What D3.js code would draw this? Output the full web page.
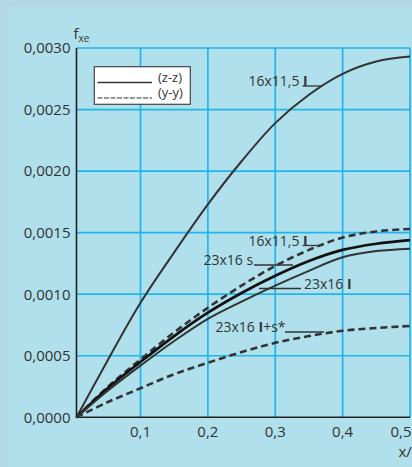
<!DOCTYPE html>
<html><head><meta charset="utf-8">
<script src="https://cdn.jsdelivr.net/npm/d3@7"></script>
<style>
html,body{margin:0;padding:0;background:#b0e0eb;}
svg{display:block;}
text{font-family:"Open Sans",sans-serif;fill:#333;}
</style></head>
<body>
<svg id="c" width="412" height="467"></svg>
<script>
// ---- data ----
const xValues = [0.005, 0.05, 0.1, 0.15, 0.2, 0.25, 0.3, 0.35, 0.4, 0.45, 0.5];
const s16x115_zz = [0, 0.00045, 0.00093, 0.00134, 0.00173, 0.00208, 0.00239, 0.00262, 0.00279, 0.00289, 0.00293];
const s16x115_yy = [0, 0.00024, 0.00047, 0.00069, 0.00089, 0.00107, 0.00123, 0.00136, 0.00146, 0.00151, 0.00153];
const s23x16s_zz = [0, 0.00023, 0.00045, 0.00066, 0.00085, 0.00101, 0.00115, 0.00127, 0.00136, 0.00141, 0.00144];
const s23x16_zz  = [0, 0.00021, 0.00042, 0.00062, 0.00080, 0.00094, 0.00107, 0.00119, 0.00130, 0.00135, 0.00137];
const s23x16is_yy = [0, 0.00012, 0.000236, 0.00035, 0.000443, 0.00053, 0.000605, 0.00066, 0.000703, 0.000725, 0.000742];
const yTicks = [0, 0.0005, 0.001, 0.0015, 0.002, 0.0025, 0.003];
const yTickLabels = ["0,0000","0,0005","0,0010","0,0015","0,0020","0,0025","0,0030"];
const xTicks = [0.1, 0.2, 0.3, 0.4, 0.5];
const xTickLabels = ["0,1","0,2","0,3","0,4","0,5"];
const legendLabels = ["(z-z)", "(y-y)"];

const svg = d3.select("#c");
// background
svg.append("rect").attr("x",0).attr("y",0).attr("width",412).attr("height",467).attr("fill","#b4d7e6");
svg.append("rect").attr("x",9).attr("y",7).attr("width",403).attr("height",460).attr("fill","#b0e0eb");

const x = d3.scaleLinear().domain([0.005, 0.5]).range([76.5, 410]);
const y = d3.scaleLinear().domain([0, 0.003]).range([417.3, 48]);

const gridColor = "#22b4ec";
// grid
svg.append("g").selectAll("line").data(yTicks.slice(1)).join("line")
  .attr("x1", x(0.005)).attr("x2", x(0.5)).attr("y1", d=>y(d)).attr("y2", d=>y(d))
  .attr("stroke", gridColor).attr("stroke-width", 1.7);
svg.append("g").selectAll("line").data(xTicks).join("line")
  .attr("x1", d=>x(d)).attr("x2", d=>x(d)).attr("y1", y(0)).attr("y2", y(0.003))
  .attr("stroke", gridColor).attr("stroke-width", 1.7);

// axes lines
svg.append("line").attr("x1", x(0.005)).attr("x2", x(0.005)).attr("y1", y(0.003)).attr("y2", y(0)+0.8)
  .attr("stroke","#222").attr("stroke-width",1.6);
svg.append("line").attr("x1", x(0.005)).attr("x2", x(0.5)).attr("y1", y(0)).attr("y2", y(0))
  .attr("stroke","#222").attr("stroke-width",1.6);

// tick labels
svg.append("g").selectAll("text").data(yTicks).join("text")
  .attr("x", 70.5).attr("y", d=>y(d)+5.3).attr("text-anchor","end")
  .attr("font-size", 15).text((d,i)=>yTickLabels[i]);
svg.append("g").selectAll("text").data(xTicks).join("text")
  .attr("x", (d,i)=> i===xTicks.length-1 ? 411.5 : x(d))
  .attr("y", 437).attr("text-anchor", (d,i)=> i===xTicks.length-1 ? "end" : "middle")
  .attr("font-size", 15).text((d,i)=>xTickLabels[i]);

// axis titles
const ft = svg.append("text").attr("x", 73.5).attr("y", 39).attr("font-size", 15);
ft.append("tspan").text("f");
ft.append("tspan").attr("font-size", 10).attr("dy", 3).text("xe");
svg.append("text").attr("x", 398.5).attr("y", 456.5).attr("font-size", 15).text("x/l");

// legend
svg.append("rect").attr("x", 94.3).attr("y", 66.7).attr("width", 96).attr("height", 37.6)
  .attr("fill", "#ffffff").attr("stroke", "#444").attr("stroke-width", 1.2);
svg.append("line").attr("x1", 97.5).attr("x2", 152).attr("y1", 82.5).attr("y2", 82.5)
  .attr("stroke","#333").attr("stroke-width",1.6);
svg.append("line").attr("x1", 97.5).attr("x2", 152).attr("y1", 98).attr("y2", 98)
  .attr("stroke","#333").attr("stroke-width",1.2).attr("stroke-dasharray","5,1.5");
svg.append("g").selectAll("text").data(legendLabels).join("text")
  .attr("x", 158).attr("y", (d,i)=> 81.5 + i*15.8).attr("font-size", 13).text(d=>d);

// curves
const line = d3.line().x((d,i)=>x(xValues[i])).y(d=>y(d)).curve(d3.curveCatmullRom.alpha(0.5));
const series = [
  {v: s16x115_zz, w: 2, c: "#333", dash: null},
  {v: s16x115_yy, w: 2.6, c: "#333", dash: "7,4"},
  {v: s23x16s_zz, w: 2.7, c: "#111", dash: null},
  {v: s23x16_zz, w: 2, c: "#333", dash: null},
  {v: s23x16is_yy, w: 2.6, c: "#333", dash: "7,4"}
];
svg.append("g").selectAll("path").data(series).join("path")
  .attr("d", d=>line(d.v)).attr("fill","none").attr("stroke", d=>d.c)
  .attr("stroke-width", d=>d.w).attr("stroke-dasharray", d=>d.dash)
  .attr("stroke-linecap","butt").attr("stroke-linejoin","round");

// annotations: label text, leader line
const annos = [
  {t:"16x11,5", bar:true, after:"", tx:248.5, ty:86, lx1:302.5, lx2:322, ly:86},
  {t:"16x11,5", bar:true, after:"", tx:248.5, ty:245.5, lx1:302.5, lx2:323, ly:245.5},
  {t:"23x16 s", bar:false, after:"", tx:203.5, ty:265, lx1:254, lx2:293, ly:265},
  {t:"23x16", bar:true, after:"", tx:304, ty:288.5, lx1:259, lx2:301, ly:288.5},
  {t:"23x16", bar:true, after:"+s*", tx:215.5, ty:332, lx1:285, lx2:324, ly:332}
];
annos.forEach(a=>{
  const t = svg.append("text").attr("x", a.tx).attr("y", a.ty).attr("font-size", 14);
  t.append("tspan").text(a.t);
  if (a.bar) t.append("tspan").attr("font-weight", 700).text(" I");
  if (a.after) t.append("tspan").text(a.after);
  svg.append("line").attr("x1", a.lx1).attr("x2", a.lx2).attr("y1", a.ly).attr("y2", a.ly)
    .attr("stroke", "#333").attr("stroke-width", 1.3);
});
</script>
</body></html>
